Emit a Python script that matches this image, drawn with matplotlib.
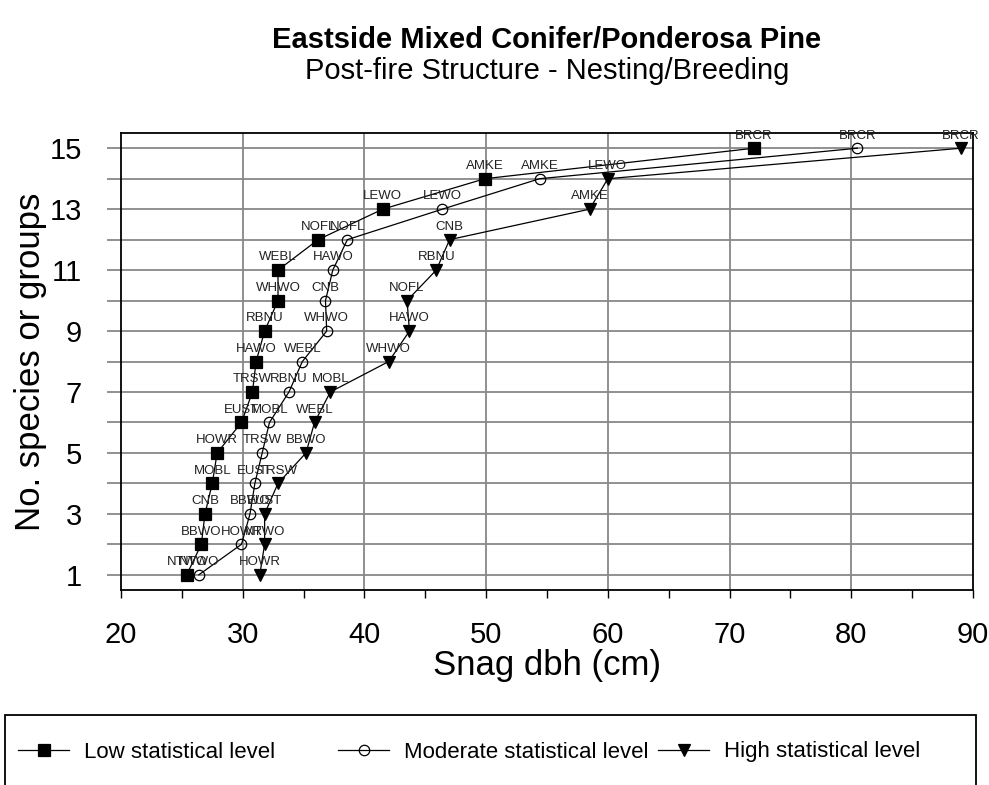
import matplotlib
matplotlib.use('Agg')
import matplotlib.pyplot as plt
from matplotlib.patches import Rectangle

plt.rcParams['font.family'] = ['Liberation Sans', 'DejaVu Sans']

rank = list(range(1, 16))

low_species = ['NTWO', 'BBWO', 'CNB', 'MOBL', 'HOWR', 'EUST', 'TRSW', 'HAWO',
               'RBNU', 'WHWO', 'WEBL', 'NOFL', 'LEWO', 'AMKE', 'BRCR']
low_dbh = [25.4, 26.6, 26.9, 27.5, 27.9, 29.9, 30.8, 31.1,
           31.8, 32.9, 32.9, 36.2, 41.5, 49.9, 72.0]

mod_species = ['NTWO', 'HOWR', 'BBWO', 'EUST', 'TRSW', 'MOBL', 'RBNU', 'WEBL',
               'WHWO', 'CNB', 'HAWO', 'NOFL', 'LEWO', 'AMKE', 'BRCR']
mod_dbh = [26.4, 29.9, 30.6, 31.0, 31.6, 32.2, 33.8, 34.9,
           36.9, 36.8, 37.4, 38.6, 46.4, 54.4, 80.5]

high_species = ['HOWR', 'NTWO', 'EUST', 'TRSW', 'BBWO', 'WEBL', 'MOBL', 'WHWO',
                'HAWO', 'NOFL', 'RBNU', 'CNB', 'AMKE', 'LEWO', 'BRCR']
high_dbh = [31.4, 31.8, 31.8, 32.9, 35.2, 35.9, 37.2, 42.0,
            43.7, 43.5, 45.9, 47.0, 58.5, 60.0, 89.0]

W, H = 989, 785
fig = plt.figure(figsize=(W / 100, H / 100), dpi=100)
ax = fig.add_axes([121 / W, 1 - 590 / H, 852 / W, 457 / H])

series = [
    (low_dbh, low_species, dict(marker='s', markersize=8.5, markerfacecolor='black'), 'Low statistical level'),
    (mod_dbh, mod_species, dict(marker='o', markersize=7.5, markerfacecolor='none'), 'Moderate statistical level'),
    (high_dbh, high_species, dict(marker='v', markersize=9, markerfacecolor='black'), 'High statistical level'),
]

handles = []
for xs, names, mk, lab in series:
    ln, = ax.plot(xs, rank, color='black', linewidth=0.9, markeredgecolor='black',
                  markeredgewidth=0.9, label=lab, zorder=3, **mk)
    handles.append(ln)
    for x, y, s in zip(xs, rank, names):
        ax.annotate(s, (x, y), xytext=(0, 7), textcoords='offset points',
                    ha='center', va='baseline', fontsize=9.5, color='#222222',
                    zorder=4)

ax.set_xlim(20, 90)
ax.set_ylim(0.5, 15.5)
ax.set_xticks(range(20, 91, 10))
ax.set_xticks(range(25, 90, 10), minor=True)
ax.set_yticks(rank)
ax.set_yticklabels([str(v) if v % 2 == 1 else '' for v in rank])

ax.tick_params(axis='x', which='both', direction='out', length=6, width=1,
               color='black', labelsize=21, pad=16)
ax.tick_params(axis='y', direction='out', length=10, width=1.3,
               color='#888888', labelsize=21, pad=18)

for v in rank:
    ax.axhline(v, color='#888888', linewidth=1.3, zorder=1)
for v in range(30, 90, 10):
    ax.axvline(v, color='#888888', linewidth=1.3, zorder=1)

for sp in ax.spines.values():
    sp.set_color('black')
    sp.set_linewidth(1.3)

ax.set_xlabel('Snag dbh (cm)', fontsize=25, labelpad=0)
ax.set_ylabel('No. species or groups', fontsize=25, labelpad=2)

# titles sit over the middle of the plot area, not the page
cx = (121 + 973) / 2 / W
fig.text(cx, 1 - 40 / H, 'Eastside Mixed Conifer/Ponderosa Pine', ha='center',
         va='center', fontsize=21, fontweight='bold')
fig.text(cx, 1 - 71 / H, 'Post-fire Structure - Nesting/Breeding', ha='center',
         va='center', fontsize=21)

# legend box, runs off the bottom like the original
fig.patches.append(Rectangle((5 / W, -0.1), 971 / W, 0.1 + 70 / H,
                             transform=fig.transFigure, fill=False,
                             edgecolor='black', linewidth=1.3))
for h, x0 in zip(handles, [18, 338, 658]):
    fig.legend(handles=[h], loc='center left', bbox_to_anchor=(x0 / W, 1 - 752 / H),
               frameon=False, fontsize=16, handlelength=2.3, handletextpad=0.65,
               borderpad=0, borderaxespad=0)

fig.savefig('out.png', dpi=100)
